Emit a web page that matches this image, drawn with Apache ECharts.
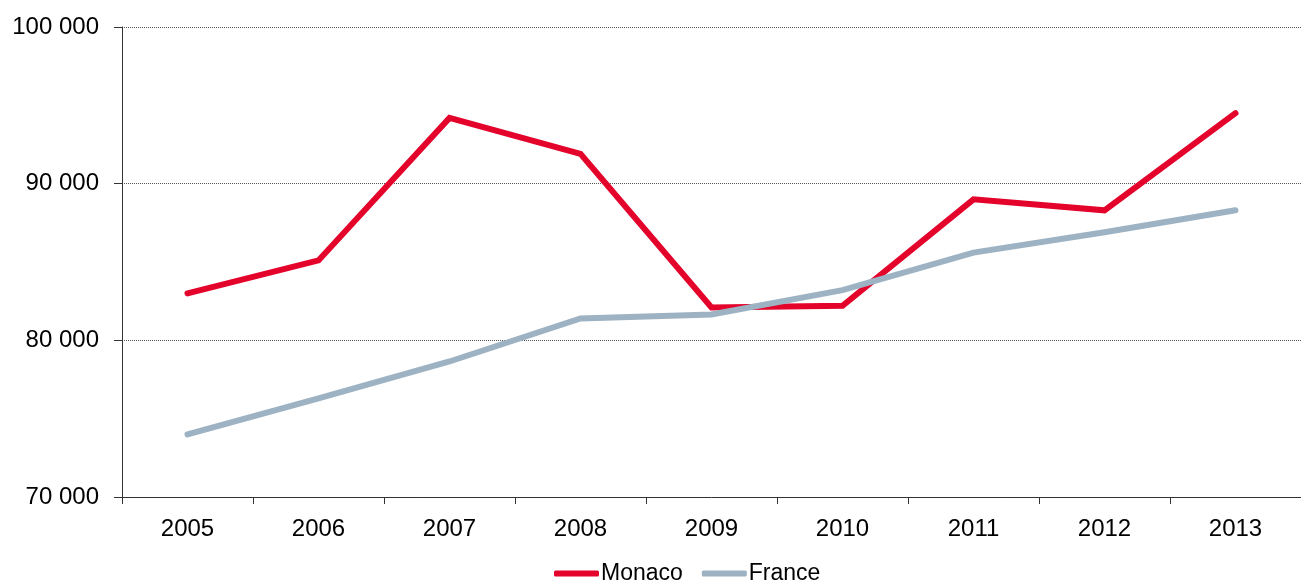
<!DOCTYPE html>
<html><head><meta charset="utf-8">
<script src="https://cdn.jsdelivr.net/npm/echarts@6/dist/echarts.min.js"></script>
<style>html,body{margin:0;padding:0;background:#fff}#c{width:1301px;height:581px}</style>
</head><body><div id="c"></div>
<script>
const years = ['2005','2006','2007','2008','2009','2010','2011','2012','2013'];
const monaco = [83000, 85100, 94200, 91900, 82100, 82200, 89000, 88300, 94500];
const france = [74000, 76300, 78650, 81400, 81650, 83200, 85600, 86900, 88300];
const yMin = 70000, yMax = 100000, yStep = 10000;

const chart = echarts.init(document.getElementById('c'));
const font = 'Liberation Sans, Arial, Helvetica, sans-serif';
chart.setOption({
  animation: false,
  textStyle: {fontFamily: font},
  grid: {left: 122, right: 0, top: 27, bottom: 84, containLabel: false},
  legend: {
    bottom: -9, left: 549, itemWidth: 45, itemHeight: 6, itemGap: 19,
    textStyle: {fontSize: 23, color: '#000', fontFamily: font, padding: [0,0,0,-3]},
    data: [{name: 'Monaco', icon: 'roundRect'}, {name: 'France', icon: 'roundRect'}]
  },
  xAxis: {
    type: 'category', data: years, boundaryGap: true,
    axisLine: {lineStyle: {color: '#333', width: 1}},
    axisTick: {show: true, length: 7, lineStyle: {color: '#333'}},
    axisLabel: {fontSize: 24, color: '#000', margin: 20, fontFamily: font},
    splitLine: {show: false}
  },
  yAxis: {
    type: 'value', min: yMin, max: yMax, interval: yStep,
    axisLine: {show: true, lineStyle: {color: '#333', width: 1}},
    axisTick: {show: true, length: 8, lineStyle: {color: '#333'}},
    axisLabel: {fontSize: 24, color: '#000', margin: 23, fontFamily: font,
      formatter: v => String(v).replace(/\B(?=(\d{3})+(?!\d))/g, ' ')},
    splitLine: {show: true, lineStyle: {color: '#555', type: [1,1], width: 1}}
  },
  series: [
    {name: 'Monaco', type: 'line', data: monaco, showSymbol: false, z: 2,
     lineStyle: {color: '#e4032b', width: 6, cap: 'round', join: 'miter'}, itemStyle: {color: '#e4032b'}},
    {name: 'France', type: 'line', data: france, showSymbol: false, z: 3,
     lineStyle: {color: '#9db2c3', width: 6, cap: 'round', join: 'miter'}, itemStyle: {color: '#9db2c3'}}
  ]
});
</script></body></html>
